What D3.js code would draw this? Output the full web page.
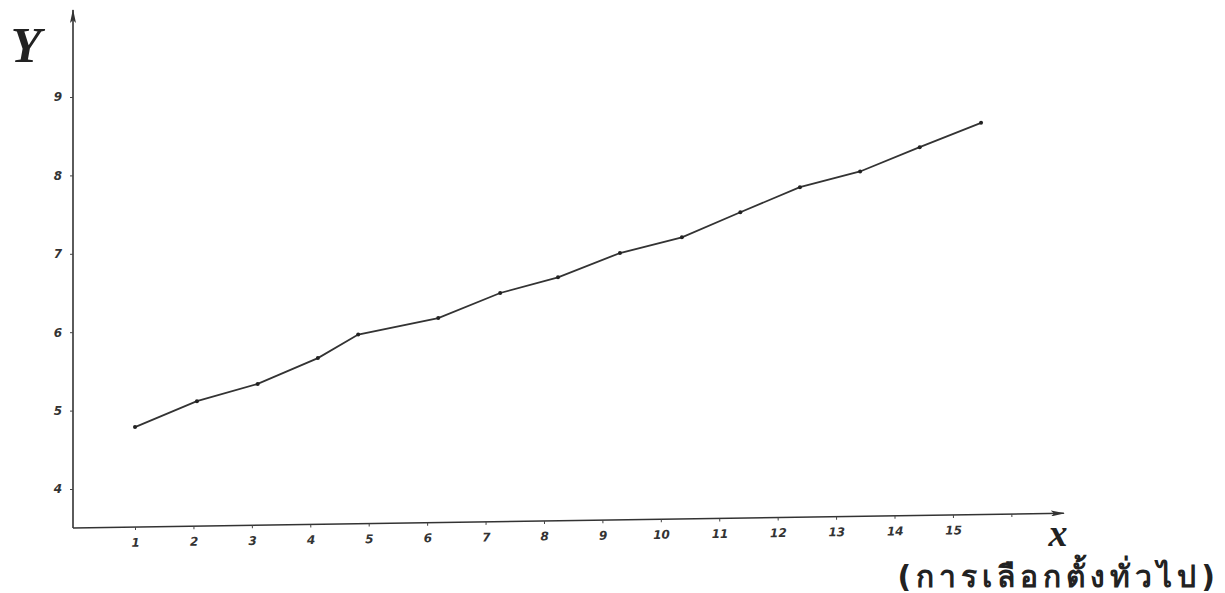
<!DOCTYPE html>
<html>
<head>
<meta charset="utf-8">
<script src="https://cdn.jsdelivr.net/npm/d3@7/dist/d3.min.js"></script>
<style>
  body { margin: 0; background: #fff; }
  .tick text { font-family: "DejaVu Sans", sans-serif; font-style: italic; font-weight: bold; font-size: 12px; fill: #333; }
  .tick line { stroke: #444; }
</style>
</head>
<body>
<div id="chart"></div>
<script>
// tick values and labels
const xTicks = [1, 2, 3, 4, 5, 6, 7, 8, 9, 10, 11, 12, 13, 14, 15, 16];
const xTickLabels = ["1", "2", "3", "4", "5", "6", "7", "8", "9", "10", "11", "12", "13", "14", "15", ""];
const yTicks = [4, 5, 6, 7, 8, 9];
const yTickLabels = ["4", "5", "6", "7", "8", "9"];

// points
const pointX = [1.00, 2.06, 3.10, 4.13, 4.82, 6.19, 7.25, 8.24, 9.30, 10.36, 11.36, 12.38, 13.41, 14.43, 15.48];
const pointY = [4.79, 5.12, 5.34, 5.67, 5.97, 6.18, 6.50, 6.70, 7.01, 7.21, 7.53, 7.85, 8.05, 8.36, 8.67];

const width = 1225;
const height = 593;

const x = d3.scaleLinear().domain([1, 15]).range([135, 953]);
const y = d3.scaleLinear().domain([4, 9]).range([489, 97]);

const originX = 73;
const originY = 528;

const svg = d3.select("#chart")
	.append("svg")
	.attr("width", width)
	.attr("height", height);

const defs = svg.append("defs");
defs.append("marker")
	.attr("id", "arrow")
	.attr("viewBox", "0 0 14 6")
	.attr("refX", 13)
	.attr("refY", 3)
	.attr("markerWidth", 14)
	.attr("markerHeight", 6)
	.attr("markerUnits", "userSpaceOnUse")
	.attr("orient", "auto")
	.append("path")
	.attr("d", "M0,0 L14,3 L0,6 L3,3 Z")
	.attr("fill", "#333");

// x axis, drawn a little off level like the original
const xAxisG = svg.append("g")
	.attr("transform", `rotate(-0.85, ${originX}, ${originY}) translate(0, ${originY})`);

xAxisG.append("line")
	.attr("x1", originX)
	.attr("x2", x(16.9))
	.attr("y1", 0)
	.attr("y2", 0)
	.attr("stroke", "#333")
	.attr("stroke-width", 1.6)
	.attr("marker-end", "url(#arrow)");

xAxisG.call(d3.axisBottom(x)
		.tickValues(xTicks)
		.tickFormat((d, i) => xTickLabels[i])
		.tickSize(3)
		.tickPadding(8))
	.call((g) => g.select(".domain").remove());

// y axis
const yAxisG = svg.append("g")
	.attr("transform", `translate(${originX}, 0)`);

yAxisG.append("line")
	.attr("x1", 0)
	.attr("x2", 0)
	.attr("y1", originY)
	.attr("y2", y(10.11))
	.attr("stroke", "#333")
	.attr("stroke-width", 1.6)
	.attr("marker-end", "url(#arrow)");

yAxisG.call(d3.axisLeft(y)
		.tickValues(yTicks)
		.tickFormat((d, i) => yTickLabels[i])
		.tickSize(3)
		.tickPadding(8))
	.call((g) => g.select(".domain").remove());

// axis titles
svg.append("text")
	.attr("x", 26)
	.attr("y", 62)
	.attr("text-anchor", "middle")
	.attr("font-family", "Liberation Serif, serif")
	.attr("font-style", "italic")
	.attr("font-weight", "bold")
	.attr("font-size", 50)
	.attr("fill", "#222")
	.text("Y");

svg.append("text")
	.attr("x", 1058)
	.attr("y", 546)
	.attr("text-anchor", "middle")
	.attr("font-family", "Liberation Serif, serif")
	.attr("font-style", "italic")
	.attr("font-weight", "bold")
	.attr("font-size", 38)
	.attr("fill", "#222")
	.text("x");

svg.append("text")
	.attr("x", 1220)
	.attr("y", 587)
	.attr("text-anchor", "end")
	.attr("font-family", "DejaVu Sans, Noto Sans, sans-serif")
	.attr("font-size", 30)
	.attr("font-weight", "bold")
	.attr("letter-spacing", 5)
	.attr("fill", "#222")
	.text("(การเลือกตั้งทั่วไป)");

// the line
const points = pointX.map((v, i) => ({ x: v, y: pointY[i] }));

const line = d3.line()
	.x((d) => x(d.x))
	.y((d) => y(d.y));

svg.append("path")
	.datum(points)
	.attr("fill", "none")
	.attr("stroke", "#333")
	.attr("stroke-width", 1.8)
	.attr("d", line);

svg.selectAll(".pt").data(points).enter()
	.append("circle")
	.attr("class", "pt")
	.attr("cx", (d) => x(d.x))
	.attr("cy", (d) => y(d.y))
	.attr("r", 2)
	.attr("fill", "#222");
</script>
</body>
</html>
